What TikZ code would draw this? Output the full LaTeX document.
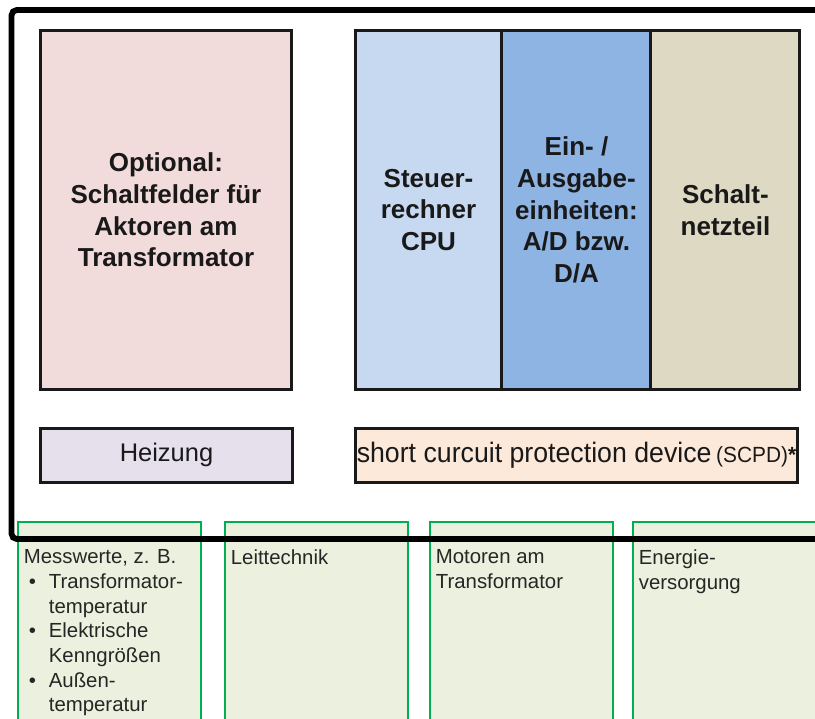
\documentclass[tikz,border=0pt]{standalone}
\usepackage{fontspec}
\setmainfont{Liberation Sans}
\newfontfamily\narrowsf[FakeStretch=0.95]{Liberation Sans}
\usetikzlibrary{positioning, calc}

\definecolor{optred}{HTML}{F2DCDB}
\definecolor{cpublue}{HTML}{C6D9F1}
\definecolor{ioblue}{HTML}{8EB4E3}
\definecolor{psutan}{HTML}{DDD9C3}
\definecolor{heatlila}{HTML}{E5E0EC}
\definecolor{scpdpeach}{HTML}{FDE9D9}
\definecolor{portgreen}{HTML}{00B050}
\definecolor{portback}{HTML}{EBF1DE}

% bullet and hanging indent for the port lists
\newcommand{\blt}{\hspace*{0.1cm}\makebox[0.4cm][l]{\textbullet}}
\newcommand{\ind}{\hspace*{0.5cm}}

\begin{document}
\begin{tikzpicture}[
        x=0.02cm, y=-0.02cm,
        font=\fontsize{14.8}{18}\selectfont,
        unit/.style={draw=black!90, line width=1.7pt, outer sep=0pt, inner sep=2pt, align=center, text=black!90},
        bigunit/.style={unit, font=\fontsize{14.8}{18}\selectfont\bfseries, minimum height=7.2cm},
        ioport/.style={draw=portgreen, fill=portback, line width=1.2pt, outer sep=0pt, minimum width=3.66cm, minimum height=4.2cm, anchor=north west},
        iotext/.style={font=\fontsize{11.6}{14.05}\selectfont, text=black!85, align=left, inner sep=0pt, anchor=north west}
    ]
        \useasboundingbox (0,0) rectangle (815,718);
        \clip (0,0) rectangle (815,718);

        % Interfaces below the cabinet
        \node[ioport] (mess) at (18,522) {};
        \node[ioport] (leit) at (225,522) {};
        \node[ioport] (motor) at (430,522) {};
        \node[ioport] (energie) at (633,522) {};

        \node[iotext, below right=0.55cm and 0.11cm of mess.north west] (messtxt) {Messwerte, z. B.\\
            \blt Transformator-\\\ind temperatur\\
            \blt Elektrische\\\ind Kenngrößen\\
            \blt Außen-\\\ind temperatur};
        \node[iotext, below right=0.55cm and 0.11cm of leit.north west] (leittxt) {Leittechnik};
        \node[iotext, below right=0.55cm and 0.11cm of motor.north west] (motortxt) {Motoren am\\Transformator};
        \node[iotext, below right=0.55cm and 0.11cm of energie.north west] (energietxt) {Energie-\\versorgung};

        % Cabinet outline
        \draw[line width=3.3pt, rounded corners=3] (840,539) -- (11.5,539) -- (11.5,10) -- (840,10);

        % Upper row
        \node[bigunit, fill=optred, minimum width=5.04cm] (optional) at (166,210)
            {Optional:\\Schaltfelder für\\Aktoren am\\Transformator};
        \node[bigunit, fill=cpublue, minimum width=2.94cm] (cpu) at (428.5,210)
            {Steuer-\\rechner\\CPU};
        \node[bigunit, fill=ioblue, minimum width=2.98cm, right=0pt of cpu] (adda)
            {Ein- /\\Ausgabe-\\einheiten:\\A/D bzw.\\D/A};
        \node[bigunit, fill=psutan, minimum width=2.98cm, right=0pt of adda] (psu)
            {Schalt-\\netzteil};

        % Lower row
        \node[unit, fill=heatlila, minimum width=5.06cm, minimum height=1.08cm] (heizung) at (166.5,455)
            {\fontsize{14.5}{17}\selectfont Heizung};
        \node[unit, fill=scpdpeach, minimum width=8.86cm, minimum height=1.08cm, inner xsep=0pt] (scpd) at (576.5,455)
            {\narrowsf\fontsize{16}{18}\selectfont short curcuit protection device\,{\fontsize{12.5}{14}\selectfont(SCPD)\textbf{*}}};

    \end{tikzpicture}
\end{document}
